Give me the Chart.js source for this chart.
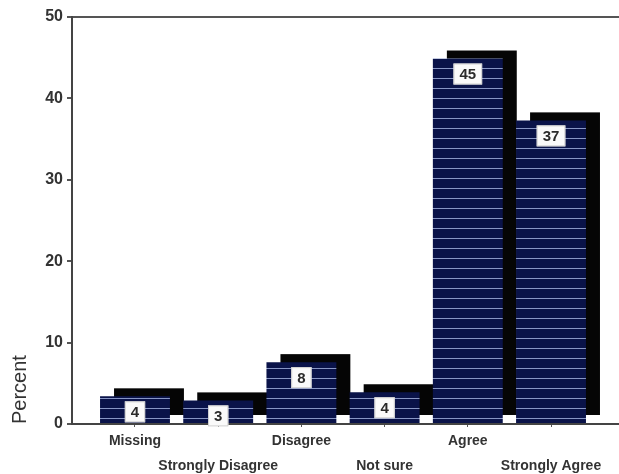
<!DOCTYPE html>
<html>
<head>
<meta charset="utf-8">
<style>
  html, body { margin: 0; padding: 0; background: #fff; }
  #wrap { width: 619px; height: 474px; }
</style>
</head>
<body>
<div id="wrap"><canvas id="percentChart" width="619" height="474"></canvas></div>

<script src="https://cdn.jsdelivr.net/npm/chart.js"></script>
<script>
    const categories = ["Missing", "Strongly Disagree", "Disagree", "Not sure", "Agree", "Strongly Agree"];
    const percentValues = [3.4, 2.9, 7.6, 3.9, 44.9, 37.3];
    const valueLabels = ["4", "3", "8", "4", "45", "37"];
    const yTicks = [0, 10, 20, 30, 40, 50];

    const FONT = "'Liberation Sans', Arial, sans-serif";

    // navy fill with thin light horizontal stripes
    function makeStripes() {
        const c = document.createElement("canvas");
        c.width = 10;
        c.height = 10;
        const g = c.getContext("2d");
        g.fillStyle = "#0a1349";
        g.fillRect(0, 0, 10, 10);
        g.fillStyle = "#8795c4";
        g.fillRect(0, 8, 10, 1);
        return g.createPattern(c, "repeat");
    }

    // black block behind each bar, shifted right and up
    const shadowPlugin = {
        id: "shadowBlocks",
        beforeDatasetsDraw(chart) {
            const ctx = chart.ctx;
            const meta = chart.getDatasetMeta(0);
            ctx.save();
            ctx.fillStyle = "#050505";
            meta.data.forEach(bar => {
                const p = bar.getProps(["x", "y", "base", "width"], true);
                ctx.fillRect(p.x - p.width / 2 + 14, p.y - 8, p.width, p.base - p.y);
            });
            ctx.restore();
        }
    };

    // white boxes with the rounded value
    const labelPlugin = {
        id: "valueBoxes",
        afterDatasetsDraw(chart) {
            const ctx = chart.ctx;
            const meta = chart.getDatasetMeta(0);
            ctx.save();
            ctx.font = "bold 15px " + FONT;
            ctx.textAlign = "center";
            ctx.textBaseline = "middle";
            meta.data.forEach((bar, i) => {
                const p = bar.getProps(["x", "y"], true);
                const text = valueLabels[i];
                const w = ctx.measureText(text).width + 12;
                const h = 21;
                const top = p.y + 5;
                ctx.fillStyle = "#fafafa";
                ctx.fillRect(p.x - w / 2, top, w, h);
                ctx.strokeStyle = "#d0d0d0";
                ctx.lineWidth = 1;
                ctx.strokeRect(p.x - w / 2 + 0.5, top + 0.5, w - 1, h - 1);
                ctx.fillStyle = "#2a2a2a";
                ctx.fillText(text, p.x, top + h / 2 + 1);
            });
            ctx.restore();
        }
    };

    const ctx = document.getElementById("percentChart").getContext("2d");

    new Chart(ctx, {
        type: "bar",
        data: {
            datasets: [{
                data: percentValues.map((v, i) => ({ x: i, y: v })),
                backgroundColor: makeStripes(),
                borderWidth: 0,
                barPercentage: 0.84,
                categoryPercentage: 1
            }]
        },
        options: {
            responsive: false,
            animation: false,
            layout: { padding: { top: 17, right: 0, bottom: 0, left: 0 } },
            plugins: {
                legend: { display: false },
                tooltip: { enabled: false }
            },
            scales: {
                x: {
                    type: "linear",
                    offset: false,
                    min: -0.757,
                    max: 5.817,
                    afterFit: scale => { scale.height = 50; },
                    afterBuildTicks: scale => {
                        scale.ticks = categories.map((c, i) => ({ value: i }));
                    },
                    border: { display: true, color: "#444", width: 2 },
                    grid: {
                        offset: false,
                        drawOnChartArea: false,
                        drawTicks: true,
                        tickLength: 3,
                        tickColor: "#555"
                    },
                    ticks: {
                        padding: 1,
                        maxRotation: 0,
                        autoSkip: false,
                        color: "#333",
                        font: { family: FONT, size: 14, weight: "bold", lineHeight: 1.82 },
                        callback: value => {
                            const name = categories[value];
                            if (name === undefined) return "";
                            return value % 2 === 0 ? name : ["", name];
                        }
                    }
                },
                y: {
                    min: 0,
                    max: 50,
                    afterFit: scale => { scale.width = 72; },
                    afterBuildTicks: scale => {
                        scale.ticks = yTicks.map(v => ({ value: v }));
                    },
                    border: { display: true, color: "#444", width: 2 },
                    grid: {
                        drawTicks: true,
                        tickLength: 5,
                        tickColor: "#555",
                        lineWidth: 2,
                        color: c => (c.tick && c.tick.value === 50 ? "#555" : "rgba(0,0,0,0)")
                    },
                    ticks: {
                        padding: 4,
                        color: "#333",
                        font: { family: FONT, size: 16, weight: "bold" }
                    },
                    title: {
                        display: true,
                        text: "Percent",
                        align: "start",
                        color: "#333",
                        padding: { top: 8, bottom: 0 },
                        font: { family: FONT, size: 20 }
                    }
                }
            }
        },
        plugins: [shadowPlugin, labelPlugin]
    });
</script>
</body>
</html>
